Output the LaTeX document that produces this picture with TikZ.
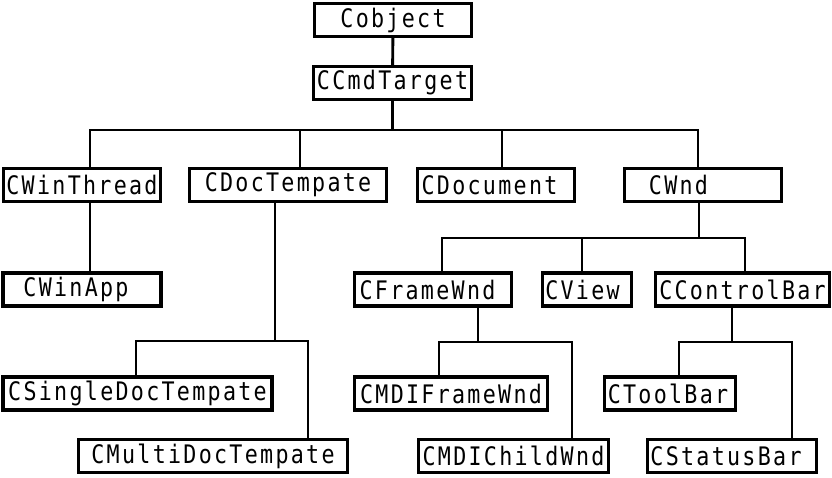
\documentclass[tikz,border=0pt]{standalone}
\usepackage{fontspec}
\setmonofont[FakeStretch=0.85,LetterSpace=9]{DejaVu Sans Mono}
\begin{document}
\begin{tikzpicture}[x=1pt,y=-1pt,
  box/.style={draw,line width=3.2pt,inner xsep=0pt,inner ysep=0pt,minimum height=33pt,
    font=\ttfamily\fontsize{25.5}{30}\selectfont},
  conn/.style={line width=2.9pt}]
\useasboundingbox (0,0) rectangle (832,477);
% boxes
\node[box,minimum width=157pt] (Cobject) at (393,20) {Cobject};
\node[box,minimum width=158pt] (CCmdTarget) at (392.5,83) {CCmdTarget};
\node[box,minimum width=157pt] (CWinThread) at (82,185) {CWinThread};
\node[box,minimum width=197pt] (CDocTempate) at (288,185) {CDocTempate};
\node[box,minimum width=157pt] (CDocument) at (496,185) {CDocument\hspace*{13pt}};
\node[box,minimum width=157pt] (CWnd) at (703,185) {CWnd\hspace*{49pt}};
\node[box,minimum width=158pt] (CWinApp) at (82,289.5) {CWinApp\hspace*{12pt}};
\node[box,minimum width=157pt] (CFrameWnd) at (433,289.5) {CFrameWnd\hspace*{11pt}};
\node[box,minimum width=89pt] (CView) at (587,289.5) {CView\hspace*{9pt}};
\node[box,minimum width=174pt] (CControlBar) at (742.5,289.5) {CControlBar};
\node[box,minimum width=269pt] (CSingleDocTempate) at (137.5,393.5) {CSingleDocTempate};
\node[box,minimum width=193pt] (CMDIFrameWnd) at (451,393.5) {CMDIFrameWnd};
\node[box,minimum width=131pt] (CToolBar) at (670,393.5) {CToolBar\hspace*{4pt}};
\node[box,minimum width=269pt] (CMultiDocTempate) at (213,456) {CMultiDocTempate};
\node[box,minimum width=190pt] (CMDIChildWnd) at (513.5,456) {CMDIChildWnd};
\node[box,minimum width=169pt] (CStatusBar) at (732,456) {CStatusBar\hspace*{12pt}};
% bus coordinates
\coordinate (a1) at (90,130);
\coordinate (a2) at (300,130);
\coordinate (a3) at (502,130);
\coordinate (a4) at (698,130);
\coordinate (b0) at (275,341);
\coordinate (b1) at (136,341);
\coordinate (b2) at (308,341);
\coordinate (c0) at (699,238);
\coordinate (c1) at (442,238);
\coordinate (c2) at (582,238);
\coordinate (c3) at (745,238);
\coordinate (d0) at (478,342);
\coordinate (d1) at (439,342);
\coordinate (d2) at (572,342);
\coordinate (e0) at (732,342);
\coordinate (e1) at (679,342);
\coordinate (e2) at (792,342);
% connectors
\draw[conn] (Cobject) -- (CCmdTarget);
\draw[conn] (CCmdTarget.south) -- (CCmdTarget.south |- a1);
\draw[conn] (CWinThread.north -| a1) -- (a1) -- (a4) -- (CWnd.north -| a4);
\draw[conn] (a2) -- (CDocTempate.north -| a2);
\draw[conn] (a3) -- (CDocument.north -| a3);
\draw[conn] (CWinThread.south -| a1) -- (CWinApp.north -| a1);
\draw[conn] (CDocTempate.south -| b0) -- (b0);
\draw[conn] (CSingleDocTempate.north -| b1) -- (b1) -- (b2) -- (CMultiDocTempate.north -| b2);
\draw[conn] (CWnd.south -| c0) -- (c0);
\draw[conn] (CFrameWnd.north -| c1) -- (c1) -- (c3) -- (CControlBar.north -| c3);
\draw[conn] (c2) -- (CView.north -| c2);
\draw[conn] (CFrameWnd.south -| d0) -- (d0);
\draw[conn] (CMDIFrameWnd.north -| d1) -- (d1) -- (d2) -- (CMDIChildWnd.north -| d2);
\draw[conn] (CControlBar.south -| e0) -- (e0);
\draw[conn] (CToolBar.north -| e1) -- (e1) -- (e2) -- (CStatusBar.north -| e2);
\end{tikzpicture}
\end{document}
